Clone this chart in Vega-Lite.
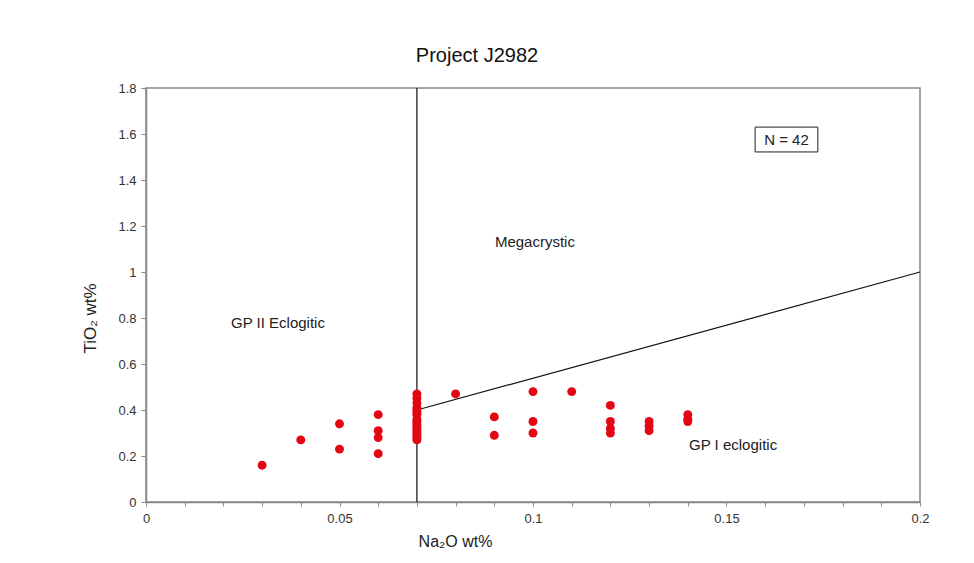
{
  "$schema": "https://vega.github.io/schema/vega-lite/v6.json",
  "width": 774,
  "height": 414,
  "autosize": {"type": "none"},
  "padding": {"left": 146, "top": 88, "right": 54, "bottom": 61},
  "background": "white",
  "title": {"text": "Project J2982", "font": "Liberation Sans", "fontSize": 20, "fontWeight": "normal", "color": "#111", "dx": -56, "offset": 16},
  "config": {
    "view": {"stroke": "#888", "strokeWidth": 1.5},
    "font": "Liberation Sans"
  },
  "datasets": {
    "points": [
      {"na2o": 0.03, "tio2": 0.16},
      {"na2o": 0.04, "tio2": 0.27},
      {"na2o": 0.05, "tio2": 0.34},
      {"na2o": 0.05, "tio2": 0.23},
      {"na2o": 0.06, "tio2": 0.38},
      {"na2o": 0.06, "tio2": 0.31},
      {"na2o": 0.06, "tio2": 0.28},
      {"na2o": 0.06, "tio2": 0.21},
      {"na2o": 0.07, "tio2": 0.27},
      {"na2o": 0.07, "tio2": 0.28},
      {"na2o": 0.07, "tio2": 0.29},
      {"na2o": 0.07, "tio2": 0.30},
      {"na2o": 0.07, "tio2": 0.31},
      {"na2o": 0.07, "tio2": 0.32},
      {"na2o": 0.07, "tio2": 0.33},
      {"na2o": 0.07, "tio2": 0.34},
      {"na2o": 0.07, "tio2": 0.35},
      {"na2o": 0.07, "tio2": 0.36},
      {"na2o": 0.07, "tio2": 0.38},
      {"na2o": 0.07, "tio2": 0.39},
      {"na2o": 0.07, "tio2": 0.40},
      {"na2o": 0.07, "tio2": 0.41},
      {"na2o": 0.07, "tio2": 0.43},
      {"na2o": 0.07, "tio2": 0.45},
      {"na2o": 0.07, "tio2": 0.47},
      {"na2o": 0.08, "tio2": 0.47},
      {"na2o": 0.09, "tio2": 0.37},
      {"na2o": 0.09, "tio2": 0.29},
      {"na2o": 0.10, "tio2": 0.48},
      {"na2o": 0.10, "tio2": 0.35},
      {"na2o": 0.10, "tio2": 0.30},
      {"na2o": 0.11, "tio2": 0.48},
      {"na2o": 0.12, "tio2": 0.42},
      {"na2o": 0.12, "tio2": 0.35},
      {"na2o": 0.12, "tio2": 0.32},
      {"na2o": 0.12, "tio2": 0.30},
      {"na2o": 0.13, "tio2": 0.35},
      {"na2o": 0.13, "tio2": 0.33},
      {"na2o": 0.13, "tio2": 0.31},
      {"na2o": 0.14, "tio2": 0.38},
      {"na2o": 0.14, "tio2": 0.36},
      {"na2o": 0.14, "tio2": 0.35}
    ],
    "vline": [
      {"na2o": 0.07, "tio2": 0},
      {"na2o": 0.07, "tio2": 1.8}
    ],
    "diag": [
      {"na2o": 0.07, "tio2": 0.4},
      {"na2o": 0.2, "tio2": 1.0}
    ],
    "labels": [
      {"na2o": 0.0341, "tio2": 0.78, "label": "GP II Eclogitic"},
      {"na2o": 0.1005, "tio2": 1.13, "label": "Megacrystic"},
      {"na2o": 0.1517, "tio2": 0.25, "label": "GP I eclogitic"},
      {"na2o": 0.1655, "tio2": 1.576, "label": "N = 42"}
    ],
    "box": [
      {"x1": 0.1574, "x2": 0.1736, "y1": 1.522, "y2": 1.630}
    ]
  },
  "layer": [
    {
      "data": {"name": "vline"},
      "mark": {"type": "line", "color": "#111", "strokeWidth": 1.2},
      "encoding": {
        "x": {
          "field": "na2o", "type": "quantitative",
          "scale": {"domain": [0, 0.2], "nice": false, "zero": false},
          "axis": {
            "values": [0, 0.01, 0.02, 0.03, 0.04, 0.05, 0.06, 0.07, 0.08, 0.09, 0.1, 0.11, 0.12, 0.13, 0.14, 0.15, 0.16, 0.17, 0.18, 0.19, 0.2],
            "tickCount": 40,
            "labelExpr": "abs(datum.value*20 - round(datum.value*20)) < 0.001 ? format(datum.value, '~g') : ''",
            "title": "Na₂O wt%",
            "titleFont": "Liberation Sans", "titleFontSize": 16, "titleFontWeight": "normal", "titleColor": "#222",
            "titleX": 309, "titleY": 39, "titleAlign": "center", "titleBaseline": "middle",
            "labelFont": "Liberation Sans", "labelFontSize": 13, "labelColor": "#333", "labelPadding": 6,
            "grid": false, "domainColor": "#888", "domainWidth": 1.5, "tickColor": "#888", "tickSize": 4, "tickOffset": 0,
            "labelFlush": false, "labelOverlap": false
          }
        },
        "y": {
          "field": "tio2", "type": "quantitative",
          "scale": {"domain": [0, 1.8], "nice": false},
          "axis": {
            "values": [0, 0.2, 0.4, 0.6, 0.8, 1, 1.2, 1.4, 1.6, 1.8],
            "tickCount": 20,
            "format": "~g",
            "title": "TiO₂ wt%",
            "titleFont": "Liberation Sans", "titleFontSize": 17, "titleFontWeight": "normal", "titleColor": "#222",
            "titleX": -56, "titleY": 230, "titleAngle": -90, "titleAlign": "center", "titleBaseline": "middle",
            "labelFont": "Liberation Sans", "labelFontSize": 13, "labelColor": "#333", "labelPadding": 5,
            "grid": false, "domainColor": "#888", "domainWidth": 1.5, "tickColor": "#888", "tickSize": 5,
            "labelFlush": false, "labelOverlap": false
          }
        }
      }
    },
    {
      "data": {"name": "diag"},
      "mark": {"type": "line", "color": "#111", "strokeWidth": 1.2},
      "encoding": {
        "x": {"field": "na2o", "type": "quantitative"},
        "y": {"field": "tio2", "type": "quantitative"}
      }
    },
    {
      "data": {"name": "points"},
      "mark": {"type": "circle", "color": "#e30613", "opacity": 1, "size": 80},
      "encoding": {
        "x": {"field": "na2o", "type": "quantitative"},
        "y": {"field": "tio2", "type": "quantitative"}
      }
    },
    {
      "data": {"name": "box"},
      "mark": {"type": "rect", "fill": "white", "stroke": "#222", "strokeWidth": 1},
      "encoding": {
        "x": {"field": "x1", "type": "quantitative"},
        "x2": {"field": "x2"},
        "y": {"field": "y1", "type": "quantitative"},
        "y2": {"field": "y2"}
      }
    },
    {
      "data": {"name": "labels"},
      "mark": {"type": "text", "font": "Liberation Sans", "fontSize": 15, "color": "#222", "align": "center", "baseline": "middle"},
      "encoding": {
        "x": {"field": "na2o", "type": "quantitative"},
        "y": {"field": "tio2", "type": "quantitative"},
        "text": {"field": "label"}
      }
    }
  ]
}
